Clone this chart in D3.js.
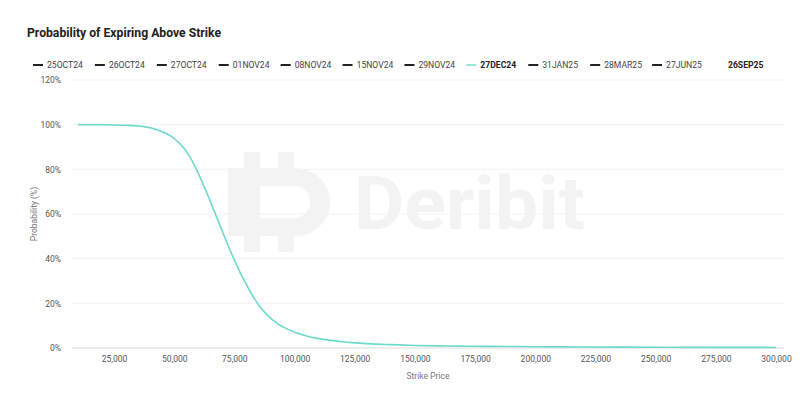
<!DOCTYPE html>
<html>
<head>
<meta charset="utf-8">
<script src="https://cdn.jsdelivr.net/npm/d3@7"></script>
<style>
  html, body { margin: 0; padding: 0; background: #fff; }
  svg { display: block; font-family: Roboto, "Noto Sans", sans-serif; }
</style>
</head>
<body>
<svg id="chart" width="811" height="406"></svg>
<script>
// ---- data ----
const title = "Probability of Expiring Above Strike";
const expiries = ["25OCT24","26OCT24","27OCT24","01NOV24","08NOV24","15NOV24","29NOV24","27DEC24","31JAN25","28MAR25","27JUN25","26SEP25"];
const selectedExpiry = "27DEC24";
const strikes = [10000,15000,20000,25000,30000,34000,36000,38000,40000,42000,44000,46000,48000,50000,52000,54000,56000,58000,60000,62000,64000,66000,68000,70000,72000,74000,76000,78000,80000,82000,84000,86000,88000,90000,92000,94000,96000,98000,100000,105000,110000,115000,120000,125000,130000,140000,150000,160000,170000,180000,200000,220000,250000,300000];
const probability = [100,99.98,99.95,99.88,99.72,99.5,99.3,99.0,98.6,98.0,97.3,96.4,95.3,93.8,91.9,89.5,86.5,82.7,78.3,73.4,68.3,63.0,57.6,52.2,46.9,41.8,37.0,32.5,28.4,24.5,21.0,18.0,15.5,13.4,11.7,10.2,9.0,8.0,7.1,5.4,4.2,3.4,2.8,2.3,1.95,1.5,1.15,0.95,0.82,0.72,0.57,0.47,0.36,0.25];
const xTicks = [25000,50000,75000,100000,125000,150000,175000,200000,225000,250000,275000,300000];
const yTicks = [0,20,40,60,80,100,120];

// ---- layout ----
const svg = d3.select("#chart");
const L = 72, R = 784, T = 80, B = 348;
const x = d3.scaleLinear().domain([7550, 303320]).range([L, R]);
const y = d3.scaleLinear().domain([0, 120]).range([B, T]);
const lineColor = "#6cdaca";

// title
svg.append("text").attr("x", 27).attr("y", 37)
  .attr("font-size", 13.5).attr("font-weight", 700).attr("fill", "#222")
  .attr("textLength", 194).attr("lengthAdjust", "spacingAndGlyphs")
  .text(title);

// legend
const legX = d3.scalePoint().domain(expiries).range([33, 714]);
const leg = svg.append("g").selectAll("g").data(expiries).join("g")
  .attr("transform", d => `translate(${legX(d)},65)`);
leg.filter(d => d !== "26SEP25").append("line")
  .attr("x1", 0).attr("x2", 10).attr("y1", 0).attr("y2", 0)
  .attr("stroke", d => d === selectedExpiry ? "#9be6da" : "#222").attr("stroke-width", 2);
leg.append("text").attr("x", 14).attr("y", 3.2)
  .attr("font-size", 8.6)
  .attr("font-weight", d => (d === selectedExpiry || d === "26SEP25") ? 700 : 400)
  .attr("fill", d => (d === selectedExpiry || d === "26SEP25") ? "#222" : "#444")
  .text(d => d);

// gridlines
svg.append("g").selectAll("line").data(yTicks).join("line")
  .attr("x1", L).attr("x2", R)
  .attr("y1", d => y(d)).attr("y2", d => y(d))
  .attr("stroke", d => d === 0 ? "#dcdcdc" : "#f2f2f2").attr("stroke-width", 1);

// watermark
const wm = svg.append("g").attr("fill", "#f3f3f3");
wm.append("path").attr("fill-rule", "evenodd")
  .attr("d", "M228,168 H296 A34,34 0 0 1 296,236 H228 Z M260,186 H294 A16,16 0 0 1 294,218 H260 Z");
[[244,152],[278,152],[244,236],[278,236]].forEach(([a,b]) =>
  wm.append("rect").attr("x", a).attr("y", b).attr("width", 16).attr("height", 16));
wm.append("text").attr("x", 354).attr("y", 229)
  .attr("font-size", 74).attr("font-weight", 700).attr("textLength", 231)
  .attr("lengthAdjust", "spacingAndGlyphs").text("Deribit");

// axes
const yAxis = svg.append("g").attr("transform", `translate(${L},0)`)
  .call(d3.axisLeft(y).tickValues(yTicks).tickFormat(d => d + "%").tickSize(0).tickPadding(11));
const xAxis = svg.append("g").attr("transform", `translate(0,${B})`)
  .call(d3.axisBottom(x).tickValues(xTicks).tickFormat(d3.format(",")).tickSize(0).tickPadding(8));
[yAxis, xAxis].forEach(a => {
  a.select(".domain").remove();
  a.selectAll("text").attr("font-size", 8.5).attr("fill", "#555").attr("font-family", "Roboto, sans-serif");
});

svg.append("text").attr("x", (L + R) / 2).attr("y", 379).attr("text-anchor", "middle")
  .attr("font-size", 8.5).attr("fill", "#777").text("Strike Price");
svg.append("text").attr("transform", `translate(37,${(T + B) / 2}) rotate(-90)`)
  .attr("text-anchor", "middle").attr("font-size", 8.5).attr("fill", "#777").text("Probability (%)");

// line
const pts = strikes.map((s, i) => [s, probability[i]]);
svg.append("path").datum(pts)
  .attr("fill", "none").attr("stroke", lineColor).attr("stroke-width", 1.6)
  .attr("d", d3.line().x(d => x(d[0])).y(d => y(d[1])).curve(d3.curveMonotoneX));
</script>
</body>
</html>
